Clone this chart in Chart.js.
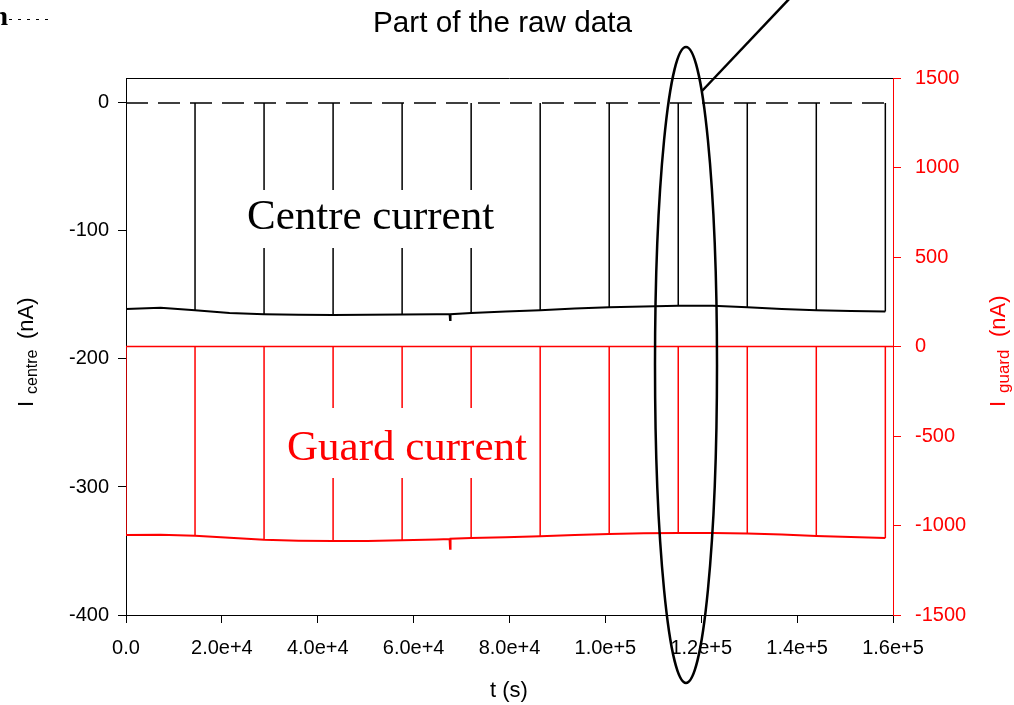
<!DOCTYPE html>
<html><head><meta charset="utf-8">
<style>html,body{margin:0;padding:0;background:#fff;overflow:hidden}canvas{display:block}</style>
<script src="https://cdn.jsdelivr.net/npm/chart.js@4.4.1/dist/chart.umd.min.js"></script>
</head><body>
<canvas id="c" width="1014" height="705"></canvas>
<script>
// ---- data ----
const tBase = [0, 7200, 14400, 21600, 28800, 36000, 43200, 50400, 57600, 64800, 67500, 67600, 67700, 72000, 79200, 86400, 93600, 100800, 108000, 115200, 122400, 129600, 136800, 144000, 151200, 158400];
const centreBase = [-161, -160, -162, -164, -165, -165.5, -165.6, -165.5, -165.2, -165, -165, -169.5, -165, -164, -163, -162, -160.5, -159.5, -159, -158.5, -158.5, -159.5, -161, -162, -162.5, -163];
const guardBase = [-1053, -1052, -1057, -1068, -1080, -1085, -1086, -1086, -1083, -1078, -1076, -1130, -1074, -1070, -1065, -1060, -1053, -1047, -1043, -1042, -1042, -1045, -1050, -1058, -1064, -1070];
const spikeTimes = [0, 14400, 28800, 43200, 57600, 72000, 86400, 100800, 115200, 129600, 144000, 158400];
const centreSpikePeak = [0, 0, 0, 0, 0, 0, 0, 0, 0, 0, 0, 0];
const guardSpikePeak = [0, 0, 0, 0, 0, 0, 0, 0, 0, 0, 0, 0];
const centreRef = [[0, 0], [158400, 0]];
const guardRef = [[0, 0], [160000, 0]];
const xTicks = [0, 20000, 40000, 60000, 80000, 100000, 120000, 140000, 160000];
const leftTicks = [-400, -300, -200, -100, 0];
const rightTicks = [-1500, -1000, -500, 0, 500, 1000, 1500];
const titleText = 'Part of the raw data';
const labelCentre = 'Centre current';
const labelGuard = 'Guard current';

const SANS = "'Liberation Sans', Arial, Helvetica, sans-serif";
const SERIF = "'Liberation Serif', 'Times New Roman', serif";
const RED = '#ff0000';

function basePts(vals){ return tBase.map((t,i)=>({x:t, y:vals[i]})); }
function spikePts(vals, peaks){
  const out = [];
  spikeTimes.forEach((t,i)=>{
    const b = vals[tBase.indexOf(t)];
    out.push({x:t, y:b}, {x:t, y:peaks[i]}, {x:t, y:null});
  });
  return out;
}

function drawRot(ctx, text, font, bx, sy, color){
  ctx.save();
  ctx.translate(bx, sy);
  ctx.rotate(-Math.PI/2);
  ctx.font = font; ctx.fillStyle = color;
  ctx.textAlign = 'left'; ctx.textBaseline = 'alphabetic';
  ctx.fillText(text, 0, 0);
  ctx.restore();
}

const deco = {
  id: 'deco',
  afterDatasetsDraw(chart){
    const ctx = chart.ctx; ctx.save();
    ctx.font = `43px ${SERIF}`;
    ctx.textAlign = 'left'; ctx.textBaseline = 'alphabetic';
    let w = ctx.measureText(labelCentre).width;
    ctx.fillStyle = '#fff'; ctx.fillRect(241, 190, w + 12, 58);
    ctx.fillStyle = '#000'; ctx.fillText(labelCentre, 247, 229);
    w = ctx.measureText(labelGuard).width;
    ctx.fillStyle = '#fff'; ctx.fillRect(281, 408, w + 12, 70);
    ctx.fillStyle = RED; ctx.fillText(labelGuard, 287, 460);
    ctx.restore();
  },
  afterDraw(chart){
    const ctx = chart.ctx, a = chart.chartArea;
    ctx.save();
    // top frame line
    ctx.strokeStyle = '#000'; ctx.lineWidth = 1;
    ctx.beginPath(); ctx.moveTo(a.left, a.top + 0.5); ctx.lineTo(a.right, a.top + 0.5); ctx.stroke();
    // ellipse + pointer
    ctx.lineWidth = 2.5;
    ctx.beginPath(); ctx.ellipse(686, 365, 31, 318, 0, 0, Math.PI*2); ctx.stroke();
    ctx.beginPath(); ctx.moveTo(702, 91); ctx.lineTo(791, -3); ctx.stroke();
    // title
    ctx.fillStyle = '#000'; ctx.font = `29.7px ${SANS}`;
    ctx.textAlign = 'center'; ctx.textBaseline = 'alphabetic';
    ctx.fillText(titleText, 502.5, 32);
    // x title
    ctx.font = `22px ${SANS}`;
    ctx.fillText('t (s)', 509, 697);
    // fragment top-left
    ctx.font = `bold 28px ${SERIF}`; ctx.textAlign = 'right';
    ctx.fillText('n', 8, 25);
    ctx.lineWidth = 1; ctx.setLineDash([3, 6]);
    ctx.beginPath(); ctx.moveTo(9, 19.5); ctx.lineTo(52, 19.5); ctx.stroke();
    ctx.setLineDash([]);
    ctx.restore();
    // y titles
    drawRot(ctx, 'I', `22px ${SANS}`, 33, 407, '#000');
    drawRot(ctx, 'centre', `16px ${SANS}`, 37, 394, '#000');
    drawRot(ctx, '(nA)', `22px ${SANS}`, 33, 339, '#000');
    drawRot(ctx, 'I', `22px ${SANS}`, 1005, 407, RED);
    drawRot(ctx, 'guard', `17px ${SANS}`, 1009, 393, RED);
    drawRot(ctx, '(nA)', `22px ${SANS}`, 1005, 337, RED);
  }
};

const tickFont = {family: SANS, size: 20};

new Chart(document.getElementById('c'), {
  type: 'line',
  data: {
    datasets: [
      {data: centreRef.map(p=>({x:p[0], y:p[1]})), yAxisID:'y', borderColor:'#000', borderWidth:1.5, borderDash:[22,10], pointRadius:0},
      {data: guardRef.map(p=>({x:p[0], y:p[1]})), yAxisID:'y2', borderColor:RED, borderWidth:1.5, pointRadius:0},
      {data: spikePts(centreBase, centreSpikePeak), yAxisID:'y', borderColor:'#000', borderWidth:1.5, pointRadius:0, spanGaps:false},
      {data: spikePts(guardBase, guardSpikePeak), yAxisID:'y2', borderColor:RED, borderWidth:1.5, pointRadius:0, spanGaps:false},
      {data: basePts(centreBase), yAxisID:'y', borderColor:'#000', borderWidth:2, pointRadius:0},
      {data: basePts(guardBase), yAxisID:'y2', borderColor:RED, borderWidth:2, pointRadius:0}
    ]
  },
  options: {
    responsive: false, animation: false, devicePixelRatio: 1,
    layout: {padding: {top: 78, left: 0, right: 0, bottom: 0}},
    plugins: {legend: {display: false}, tooltip: {enabled: false}},
    elements: {line: {tension: 0}},
    scales: {
      x: {
        type: 'linear', position: 'bottom', min: 0, max: 160000,
        ticks: {color: '#000', font: tickFont, padding: 13, maxRotation: 0, autoSkip: false,
          callback: v => v === 0 ? '0.0' : Number(v).toExponential(1)},
        grid: {display: true, drawOnChartArea: false, drawTicks: true, tickLength: 8, color: '#000', lineWidth: 1},
        border: {display: true, color: '#000', width: 1},
        afterBuildTicks: s => { s.ticks = xTicks.map(v => ({value: v})); },
        afterFit: s => { s.height = 90; }
      },
      y: {
        type: 'linear', position: 'left', min: -400, max: 19.5,
        ticks: {color: '#000', font: tickFont, padding: 9, callback: v => String(v)},
        grid: {display: true, drawOnChartArea: false, drawTicks: true, tickLength: 8, color: '#000', lineWidth: 1},
        border: {display: true, color: '#000', width: 1},
        afterBuildTicks: s => { s.ticks = leftTicks.map(v => ({value: v})); },
        afterFit: s => { s.width = 126; }
      },
      y2: {
        type: 'linear', position: 'right', min: -1500, max: 1500,
        ticks: {color: RED, font: tickFont, padding: 14, callback: v => String(v)},
        grid: {display: true, drawOnChartArea: false, drawTicks: true, tickLength: 8, color: RED, lineWidth: 1},
        border: {display: true, color: RED, width: 1},
        afterBuildTicks: s => { s.ticks = rightTicks.map(v => ({value: v})); },
        afterFit: s => { s.width = 121; }
      }
    }
  },
  plugins: [deco]
});
</script></body></html>
